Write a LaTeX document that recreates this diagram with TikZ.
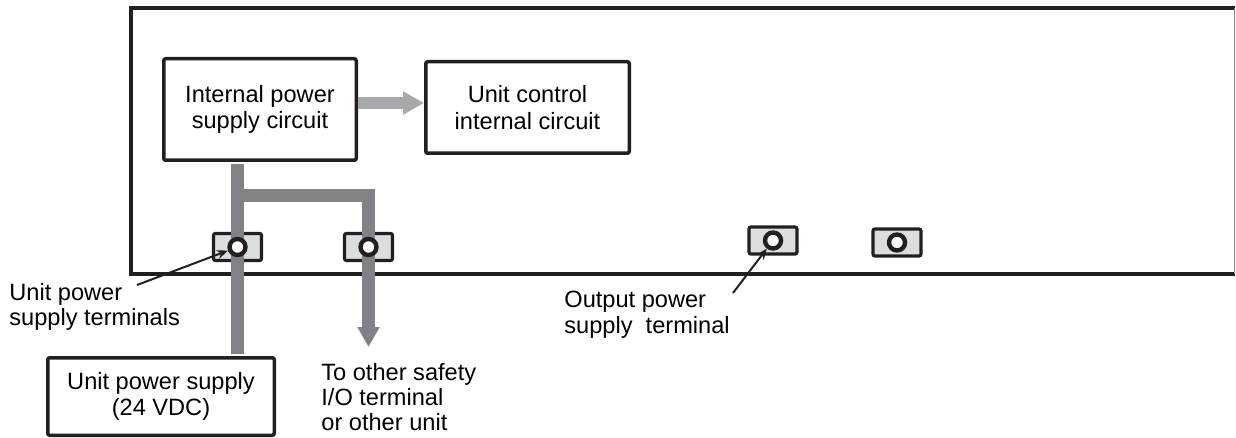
\documentclass[tikz,border=0pt]{standalone}
\usepackage{fontspec}
\setmainfont{Liberation Sans}
\usetikzlibrary{arrows.meta, positioning}
\definecolor{inkblack}{RGB}{35,31,32}
\definecolor{wiregray}{RGB}{128,130,133}
\definecolor{feedgray}{RGB}{167,169,172}
\definecolor{termgray}{RGB}{220,221,222}

\tikzset{
  blockbox/.style={draw=inkblack, fill=white, line width=1.75pt, rounded corners=1pt,
    align=center, inner sep=0pt, font=\fontsize{11.8}{13.2}\selectfont},
  termbox/.style={draw=inkblack, fill=termgray, line width=1.6pt, rounded corners=1pt,
    minimum width=24pt, minimum height=13.5pt, inner sep=0pt},
  hole/.style={circle, draw=inkblack, fill=white, line width=2.2pt, minimum size=8pt, inner sep=0pt},
  wire/.style={wiregray, line width=6.5pt},
  feed/.style={feedgray, line width=6pt, -{Triangle[length=10.5pt,width=11pt]}},
  leader/.style={inkblack, line width=1pt, -{Stealth[length=5.5pt,width=4.5pt]}},
  note/.style={align=left, inner sep=0pt, font=\fontsize{11.8}{12.6}\selectfont}
}

\begin{document}
\begin{tikzpicture}[x=0.5pt, y=-0.5pt]
  \useasboundingbox (0,0) rectangle (1236,438);

  % Unit housing
  \draw[inkblack, line width=1.75pt] (1234.5,8) -- (131,8) -- (131,274) -- (1234.5,274);
  \draw[wiregray, line width=0.6pt] (1234.5,8) -- (1234.5,274);

  % Circuit blocks
  \node[blockbox, minimum width=96.25pt, minimum height=50.75pt] (ips) at (260,109.5)
    {Internal power\\supply circuit};
  \node[blockbox, minimum width=101.75pt, minimum height=45.75pt] (ctrl) at (527.5,107.5)
    {Unit control\\internal circuit};
  \node[blockbox, minimum width=113.25pt, minimum height=38.75pt] (psu) at (161,396.5)
    {Unit power supply\\(24 VDC)};

  % Terminals
  \node[termbox] (t1) at (237.5,247) {};
  \node[termbox] (t2) at (368.5,247) {};
  \node[termbox] (t3) at (773,240.5) {};
  \node[termbox] (t4) at (897,242.5) {};

  % Power wiring
  \coordinate (feedy) at (0,103);
  \coordinate (branch) at (0,196);
  \coordinate (onward) at (368.5,347);
  \draw[feed] (ips.east |- feedy) -- (ctrl.west |- feedy);
  \draw[wire, shorten <=0.9pt, shorten >=0.9pt] (t1.center |- ips.south) -- (t1.center |- psu.north);
  \draw[wire, -{Triangle[length=10pt,width=10.5pt]}]
    (t1.center |- branch) -- (t2.center |- branch) -- (onward);

  \node[hole] (h1) at (t1) {};
  \node[hole] (h2) at (t2) {};
  \node[hole] (h3) at (t3) {};
  \node[hole] (h4) at (t4) {};

  % Labels
  \node[note, anchor=north west] (nin) at (9,283) {Unit power\\supply terminals};
  \node[note, anchor=north west] (nother) at (321,363) {To other safety\\I/O terminal\\or other unit};
  \node[note, anchor=north west] (nout) at (564,291) {Output power\\supply\ \ terminal};

  \coordinate (lin) at (137,285);
  \coordinate (lout) at (733,293);
  \draw[leader] (lin) -- (h1);
  \draw[leader] (lout) -- (h3);
\end{tikzpicture}
\end{document}
